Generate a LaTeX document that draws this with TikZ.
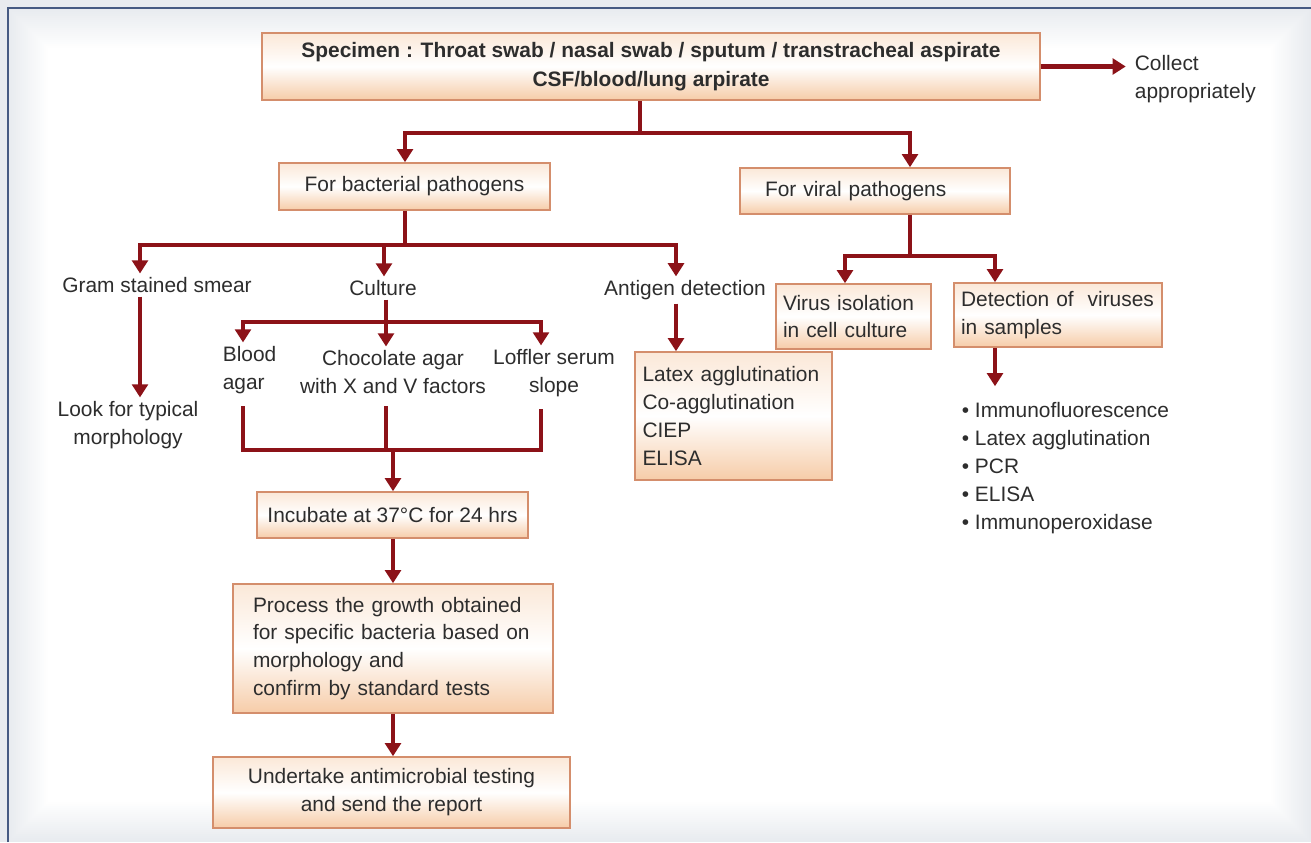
\documentclass[tikz,border=0pt]{standalone}
\usepackage{fontspec}
\setmainfont{Liberation Sans}
\usetikzlibrary{arrows.meta}

\definecolor{arrred}{RGB}{140,18,24}
\definecolor{boxline}{RGB}{212,142,108}
\definecolor{peach}{RGB}{246,204,168}
\definecolor{txtgray}{RGB}{45,45,45}
\definecolor{bggray}{RGB}{232,235,239}
\definecolor{frameblue}{RGB}{70,90,130}

\tikzset{
  line/.style={draw=arrred, line width=2.8pt},
  arr/.style={line, -{Triangle[length=7.5pt,width=9pt]}},
  box/.style={draw=boxline, line width=0.9pt, top color=peach!45, bottom color=peach, middle color=white, inner sep=0pt, text=txtgray},
  lbl/.style={inner sep=2pt, text=txtgray},
}

\begin{document}
\begin{tikzpicture}[x=0.02cm, y=-0.02cm, font=\fontsize{11.9}{15.9}\selectfont]

\useasboundingbox (0,0) rectangle (1311,842);

% background
\fill[bggray] (0,0) rectangle (1311,842);
\foreach \i [evaluate=\i as \p using 5*\i] in {1,...,20}
  \fill[white!\p!bggray] (8+2*\i,8+2*\i) rectangle (1311-2*\i,842-2*\i);
\draw[frameblue, line width=1.2pt] (8,842) -- (8,8) -- (1311,8);

% boxes
\node[box, minimum width=15.56cm, minimum height=1.34cm, align=center, font=\bfseries\fontsize{11.9}{16.4}\selectfont] (spec) at (651,66.5) {Specimen : Throat swab / nasal swab / sputum / transtracheal aspirate\\CSF/blood/lung arpirate};
\node[box, minimum width=5.42cm, minimum height=0.94cm] (bact) at (414.5,186.5) {For bacterial pathogens};
\node[box, inner xsep=0.5cm, text width=4.4cm, minimum height=0.92cm, align=left] (viral) at (875,191) {For viral pathogens};
\node[box, inner xsep=0.14cm, text width=2.82cm, minimum height=1.3cm, align=left] (virus) at (853.5,316.5) {Virus isolation\\in cell culture};
\node[box, inner xsep=0.14cm, text width=3.88cm, minimum height=1.28cm, align=left] (detect) at (1058,315) {Detection of\ \ viruses\\in samples};
\node[box, inner xsep=0.15cm, text width=3.64cm, minimum height=2.56cm, align=left] (antbox) at (733.5,416) {Latex agglutination\\Co-agglutination\\CIEP\\ELISA};
\node[box, minimum width=5.42cm, minimum height=0.92cm] (incub) at (392.5,515) {Incubate at 37\textdegree C for 24 hrs};
\node[box, inner xsep=0.4cm, text width=5.6cm, minimum height=2.58cm, align=left] (process) at (393,648.5) {Process the growth obtained\\for specific bacteria based on\\morphology and\\confirm by standard tests};
\node[box, minimum width=7.14cm, minimum height=1.42cm, align=center] (report) at (391.5,792.5) {Undertake antimicrobial testing\\and send the report};

% labels
\node[lbl, anchor=west, align=left] (collect) at (1131,79) {Collect\\appropriately};
\node[lbl] (gram) at (157,285) {Gram stained smear};
\node[lbl] (culture) at (383,288) {Culture};
\node[lbl] (antlbl) at (685,290) {Antigen detection};
\node[lbl, align=center] (look) at (128,425) {Look for typical\\morphology};
\node[lbl, anchor=west, align=left] (blood) at (219,370) {Blood\\agar};
\node[lbl, align=center] (choc) at (393,372) {Chocolate agar\\with X and V factors};
\node[lbl, align=center] (loffler) at (554,373) {Loffler serum\\slope};
\node[lbl, anchor=west, align=left] (bullets) at (958,468) {\textbullet\ Immunofluorescence\\\textbullet\ Latex agglutination\\\textbullet\ PCR\\\textbullet\ ELISA\\\textbullet\ Immunoperoxidase};

% junctions
\coordinate (cT) at (640,133);
\coordinate (cB) at (405,133);
\coordinate (cV) at (910,133);
\coordinate (j2) at (405,245);
\coordinate (cG) at (140,245);
\coordinate (cC) at (384,245);
\coordinate (cA) at (676,245);
\coordinate (j3) at (386,322);
\coordinate (cBl) at (243,322);
\coordinate (cLo) at (541,322);
\coordinate (m1) at (243,450);
\coordinate (m3) at (541,450);
\coordinate (m0) at (393,450);
\coordinate (j4) at (910,256);
\coordinate (cVi) at (845,256);
\coordinate (cD) at (995,256);

% connectors
\draw[arr, shorten >=3pt] (spec.east) -- (spec.east -| collect.west);
\draw[line] (spec.south -| cT) -- (cT);
\draw[arr] (cT) -| (bact.north -| cB);
\draw[arr] (cT) -| (viral.north -| cV);

\draw[line] (bact.south -| j2) -- (j2);
\draw[arr] (j2) -| (gram.north -| cG);
\draw[arr] (j2) -| (culture.north -| cC);
\draw[arr] (j2) -| (antlbl.north -| cA);
\draw[arr] (gram.south -| cG) -- (look.north -| cG);

\draw[line] (culture.south -| j3) -- (j3);
\draw[arr] (j3) -| (blood.north -| cBl);
\draw[arr] (j3) -- (choc.north -| j3);
\draw[arr] (j3) -| (loffler.north -| cLo);
\draw[line, shorten <=5pt, shorten >=5pt] (blood.south -| m1) -- (m1) -- (m3) -- (loffler.south -| m3);
\draw[line, shorten <=5pt] (choc.south -| j3) -- (j3 |- m1);
\draw[arr] (m0) -- (incub.north -| m0);
\draw[arr] (incub.south -| m0) -- (process.north -| m0);
\draw[arr] (process.south -| m0) -- (report.north -| m0);

\draw[arr] (antlbl.south -| cA) -- (antbox.north -| cA);

\draw[line] (viral.south -| j4) -- (j4);
\draw[arr] (j4) -| (virus.north -| cVi);
\draw[arr] (j4) -| (detect.north -| cD);
\draw[arr, shorten >=7pt] (detect.south -| cD) -- (bullets.north -| cD);

\end{tikzpicture}
\end{document}
